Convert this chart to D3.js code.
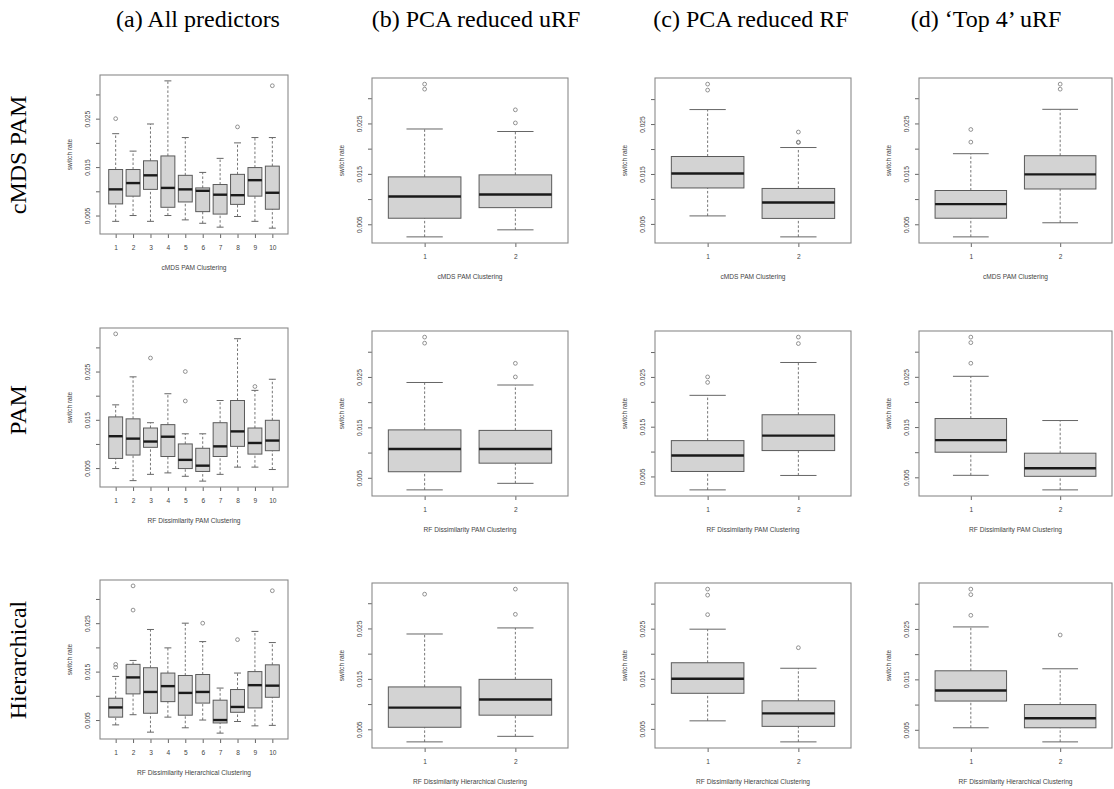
<!DOCTYPE html>
<html>
<head>
<meta charset="utf-8">
<script src="https://cdn.jsdelivr.net/npm/d3@7"></script>
<style>
  body { margin: 0; background: #fff; }
  svg { display: block; }
</style>
</head>
<body>
<svg id="chart" width="1114" height="789"></svg>
<script>
// Column / row headings and axis text
const colTitles = ["(a) All predictors", "(b) PCA reduced uRF", "(c) PCA reduced RF", "(d) \u2018Top 4\u2019 uRF"];
const rowTitles = ["cMDS PAM", "PAM", "Hierarchical"];
const xTitles = ["cMDS PAM Clustering", "RF Dissimilarity PAM Clustering", "RF Dissimilarity Hierarchical Clustering"];
const yTitle = "switch rate";
const yTicks = [0.005, 0.010, 0.015, 0.020, 0.025, 0.030];
const yTickLabels = ["0.005", "", "0.015", "", "0.025", ""];

// Box statistics per cluster: [lower whisker, Q1, median, Q3, upper whisker]
// plus the outlying points of each cluster.

// Row 1: cMDS PAM clustering
const cmdsAll = [
  [0.0038, 0.0074, 0.0104, 0.0145, 0.0219],
  [0.0050, 0.0090, 0.0117, 0.0145, 0.0183],
  [0.0038, 0.0104, 0.0133, 0.0163, 0.0239],
  [0.0050, 0.0067, 0.0107, 0.0173, 0.0328],
  [0.0041, 0.0078, 0.0104, 0.0133, 0.0211],
  [0.0034, 0.0058, 0.0101, 0.0107, 0.0139],
  [0.0026, 0.0053, 0.0093, 0.0114, 0.0168],
  [0.0048, 0.0073, 0.0092, 0.0135, 0.0200],
  [0.0038, 0.0090, 0.0123, 0.0149, 0.0211],
  [0.0024, 0.0063, 0.0097, 0.0152, 0.0211]
];
const cmdsAllOut = [[0.0250], [], [], [], [], [], [], [0.0233], [], [0.0318]];

const cmdsPcaU = [
  [0.0025, 0.0062, 0.0105, 0.0144, 0.0239],
  [0.0039, 0.0083, 0.0109, 0.0148, 0.0234]
];
const cmdsPcaUOut = [[0.0318, 0.0328], [0.0251, 0.0277]];

const cmdsPcaR = [
  [0.0066, 0.0122, 0.0151, 0.0185, 0.0279],
  [0.0024, 0.0061, 0.0093, 0.0121, 0.0203]
];
const cmdsPcaROut = [[0.0318, 0.0330], [0.0213, 0.0214, 0.0234]];

const cmdsTop4 = [
  [0.0025, 0.0062, 0.0090, 0.0117, 0.0190],
  [0.0053, 0.0120, 0.0149, 0.0186, 0.0278]
];
const cmdsTop4Out = [[0.0213, 0.0238], [0.0318, 0.0328]];

// Row 2: RF dissimilarity PAM clustering
const pamAll = [
  [0.0049, 0.0070, 0.0116, 0.0156, 0.0181],
  [0.0024, 0.0077, 0.0111, 0.0152, 0.0239],
  [0.0037, 0.0093, 0.0105, 0.0133, 0.0144],
  [0.0040, 0.0074, 0.0115, 0.0140, 0.0204],
  [0.0033, 0.0049, 0.0067, 0.0100, 0.0121],
  [0.0023, 0.0043, 0.0055, 0.0091, 0.0121],
  [0.0037, 0.0074, 0.0095, 0.0144, 0.0190],
  [0.0052, 0.0095, 0.0126, 0.0190, 0.0318],
  [0.0052, 0.0079, 0.0102, 0.0133, 0.0211],
  [0.0047, 0.0086, 0.0107, 0.0149, 0.0234]
];
const pamAllOut = [[0.0328], [], [0.0278], [], [0.0189, 0.0250], [], [], [], [0.0219], []];

const pamPcaU = [
  [0.0026, 0.0062, 0.0107, 0.0145, 0.0239],
  [0.0039, 0.0079, 0.0107, 0.0144, 0.0234]
];
const pamPcaUOut = [[0.0317, 0.0329], [0.0250, 0.0277]];

const pamPcaR = [
  [0.0023, 0.0060, 0.0092, 0.0122, 0.0213],
  [0.0052, 0.0102, 0.0132, 0.0174, 0.0279]
];
const pamPcaROut = [[0.0239, 0.0250], [0.0317, 0.0330]];

const pamTop4 = [
  [0.0054, 0.0100, 0.0124, 0.0167, 0.0251],
  [0.0025, 0.0052, 0.0068, 0.0098, 0.0163]
];
const pamTop4Out = [[0.0277, 0.0318, 0.0329], []];

// Row 3: RF dissimilarity hierarchical clustering
const hierAll = [
  [0.0040, 0.0056, 0.0076, 0.0095, 0.0140],
  [0.0061, 0.0104, 0.0138, 0.0165, 0.0173],
  [0.0025, 0.0064, 0.0108, 0.0158, 0.0237],
  [0.0056, 0.0088, 0.0120, 0.0147, 0.0199],
  [0.0034, 0.0060, 0.0106, 0.0142, 0.0250],
  [0.0050, 0.0085, 0.0108, 0.0144, 0.0212],
  [0.0023, 0.0044, 0.0050, 0.0091, 0.0116],
  [0.0047, 0.0066, 0.0077, 0.0113, 0.0147],
  [0.0038, 0.0075, 0.0122, 0.0150, 0.0233],
  [0.0039, 0.0097, 0.0121, 0.0164, 0.0210]
];
const hierAllOut = [[0.0159, 0.0165], [0.0277, 0.0327], [], [], [], [0.0250], [], [0.0216], [], [0.0317]];

const hierPcaU = [
  [0.0025, 0.0054, 0.0093, 0.0134, 0.0239],
  [0.0036, 0.0078, 0.0109, 0.0149, 0.0251]
];
const hierPcaUOut = [[0.0318], [0.0278, 0.0328]];

const hierPcaR = [
  [0.0066, 0.0121, 0.0150, 0.0182, 0.0249],
  [0.0024, 0.0055, 0.0081, 0.0106, 0.0171]
];
const hierPcaROut = [[0.0278, 0.0317, 0.0329], [0.0212]];

const hierTop4 = [
  [0.0054, 0.0107, 0.0128, 0.0167, 0.0254],
  [0.0026, 0.0054, 0.0073, 0.0100, 0.0171]
];
const hierTop4Out = [[0.0277, 0.0318, 0.0329], [0.0238]];

const grid = [
  [[cmdsAll, cmdsAllOut], [cmdsPcaU, cmdsPcaUOut], [cmdsPcaR, cmdsPcaROut], [cmdsTop4, cmdsTop4Out]],
  [[pamAll, pamAllOut], [pamPcaU, pamPcaUOut], [pamPcaR, pamPcaROut], [pamTop4, pamTop4Out]],
  [[hierAll, hierAllOut], [hierPcaU, hierPcaUOut], [hierPcaR, hierPcaROut], [hierTop4, hierTop4Out]]
];

// ---- layout ----
const colX = [100, 372, 655, 919];
const colW = [188, 196, 196, 193];
const rowTopA = [75, 328, 580];
const rowTopB = [78, 331, 583];
const heightA = 159, heightB = 165;
const colTitleX = [198, 476, 751, 986];
const rowTitleY = [155, 410, 660];

const AXIS_FONT = "'Liberation Sans', Arial, sans-serif";
const SERIF = "'Liberation Serif', 'Times New Roman', serif";

const svg = d3.select("#chart");

// column headings
svg.selectAll("text.col-title")
  .data(colTitles)
  .join("text")
  .attr("class", "col-title")
  .attr("x", (d, i) => colTitleX[i])
  .attr("y", 27)
  .attr("text-anchor", "middle")
  .attr("font-family", SERIF)
  .attr("font-size", 24)
  .attr("fill", "#000")
  .text(d => d);

// row headings (rotated)
svg.selectAll("text.row-title")
  .data(rowTitles)
  .join("text")
  .attr("class", "row-title")
  .attr("transform", (d, i) => `translate(26,${rowTitleY[i]}) rotate(-90)`)
  .attr("text-anchor", "middle")
  .attr("font-family", SERIF)
  .attr("font-size", 24)
  .attr("fill", "#000")
  .text(d => d);

function drawPanel(g, stats, outs, w, h, xTitle) {
  const n = stats.length;
  const values = stats.flat().concat(outs.flat());
  const lo = d3.min(values), hi = d3.max(values);
  const pad = (hi - lo) * 0.04;
  const y = d3.scaleLinear().domain([lo - pad, hi + pad]).range([h, 0]);
  const x = d3.scaleLinear().domain([0.5 - 0.04 * n, n + 0.5 + 0.04 * n]).range([0, w]);
  const bw = (x(1) - x(0)) * 0.8;

  // y axis
  const yAxis = g.append("g")
    .call(d3.axisLeft(y).tickValues(yTicks).tickSize(4)
      .tickFormat((d, i) => yTickLabels[i]));
  yAxis.select(".domain").remove();
  yAxis.selectAll(".tick line").attr("stroke", "#666");
  yAxis.selectAll(".tick text")
    .attr("transform", "rotate(-90)")
    .attr("x", 0).attr("y", -10).attr("dy", 0)
    .attr("text-anchor", "middle")
    .attr("font-family", AXIS_FONT)
    .attr("font-size", 6.6)
    .attr("fill", "#444");

  // x axis
  const xAxis = g.append("g")
    .attr("transform", `translate(0,${h})`)
    .call(d3.axisBottom(x).tickValues(d3.range(1, n + 1)).tickSize(4).tickFormat(d3.format("d")));
  xAxis.select(".domain").remove();
  xAxis.selectAll(".tick line").attr("stroke", "#666");
  xAxis.selectAll(".tick text")
    .attr("y", 11).attr("dy", "0.71em")
    .attr("font-family", AXIS_FONT)
    .attr("font-size", 6.6)
    .attr("fill", "#444");

  // axis titles
  g.append("text")
    .attr("transform", `translate(-28,${h / 2}) rotate(-90)`)
    .attr("text-anchor", "middle")
    .attr("font-family", AXIS_FONT)
    .attr("font-size", 6.6)
    .attr("fill", "#444")
    .text(yTitle);
  g.append("text")
    .attr("x", w / 2)
    .attr("y", h + 36)
    .attr("text-anchor", "middle")
    .attr("font-family", AXIS_FONT)
    .attr("font-size", 6.6)
    .attr("fill", "#444")
    .text(xTitle);

  // boxes
  const box = g.selectAll("g.box")
    .data(stats)
    .join("g")
    .attr("class", "box")
    .attr("transform", (d, i) => `translate(${x(i + 1)},0)`);

  // dashed whiskers
  box.append("line")
    .attr("y1", d => y(d[0])).attr("y2", d => y(d[1]))
    .attr("stroke", "#666").attr("stroke-width", 0.9).attr("stroke-dasharray", "2.5,2");
  box.append("line")
    .attr("y1", d => y(d[3])).attr("y2", d => y(d[4]))
    .attr("stroke", "#666").attr("stroke-width", 0.9).attr("stroke-dasharray", "2.5,2");
  // staples
  box.append("line")
    .attr("x1", -bw / 4).attr("x2", bw / 4)
    .attr("y1", d => y(d[0])).attr("y2", d => y(d[0]))
    .attr("stroke", "#666").attr("stroke-width", 1);
  box.append("line")
    .attr("x1", -bw / 4).attr("x2", bw / 4)
    .attr("y1", d => y(d[4])).attr("y2", d => y(d[4]))
    .attr("stroke", "#666").attr("stroke-width", 1);
  // interquartile box
  box.append("rect")
    .attr("x", -bw / 2).attr("width", bw)
    .attr("y", d => y(d[3]))
    .attr("height", d => y(d[1]) - y(d[3]))
    .attr("fill", "#d3d3d3")
    .attr("stroke", "#5a5a5a").attr("stroke-width", 1);
  // median
  box.append("line")
    .attr("x1", -bw / 2).attr("x2", bw / 2)
    .attr("y1", d => y(d[2])).attr("y2", d => y(d[2]))
    .attr("stroke", "#1a1a1a").attr("stroke-width", 2.4);

  // outliers
  box.each(function (d, i) {
    d3.select(this).selectAll("circle")
      .data(outs[i])
      .join("circle")
      .attr("cx", 0)
      .attr("cy", v => y(v))
      .attr("r", 1.9)
      .attr("fill", "none")
      .attr("stroke", "#777")
      .attr("stroke-width", 0.8);
  });

  // plot frame
  g.append("rect")
    .attr("width", w).attr("height", h)
    .attr("fill", "none")
    .attr("stroke", "#8a8a8a").attr("stroke-width", 1.1);
}

grid.forEach((row, r) => {
  row.forEach((cell, c) => {
    const top = c === 0 ? rowTopA[r] : rowTopB[r];
    const h = c === 0 ? heightA : heightB;
    const g = svg.append("g").attr("transform", `translate(${colX[c]},${top})`);
    drawPanel(g, cell[0], cell[1], colW[c], h, xTitles[r]);
  });
});
</script>
</body>
</html>
